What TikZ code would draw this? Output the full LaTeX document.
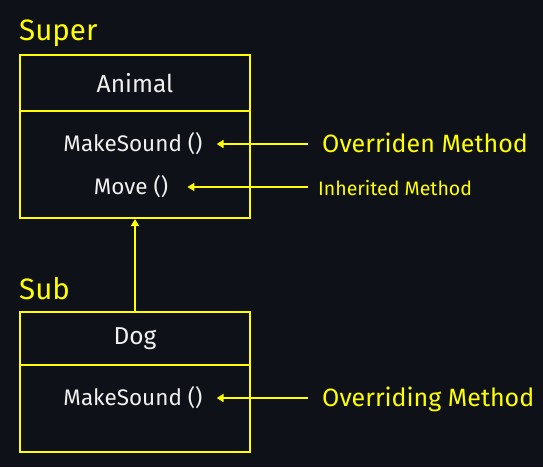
\documentclass[tikz,border=0pt]{standalone}
\usepackage{fontspec}
\setmainfont{Fira Sans}
\usepackage{tikz}
\usetikzlibrary{arrows.meta}
\definecolor{bgdark}{HTML}{0E1118}
\definecolor{hl}{HTML}{FFFF00}
\definecolor{txt}{HTML}{F0F0F0}

\begin{document}
\begin{tikzpicture}[x=1pt,y=-1pt]
		\fill[bgdark] (0,0) rectangle (543,467);
		\useasboundingbox (0,0) rectangle (543,467);

		\begin{scope}[every node/.style={rectangle,draw=hl,line width=2pt,minimum width=230pt,inner sep=0pt,text=txt,font=\fontsize{24.5}{28}\selectfont}]
			\node[minimum height=56pt] (animal) at (135,83) {Animal};
			\node[minimum height=107pt] (animalbody) at (135,164.5) {};
			\node[minimum height=53pt] (dog) at (135,338.5) {Dog};
			\node[minimum height=87pt] (dogbody) at (135,408.5) {};
		\end{scope}

		\begin{scope}[every node/.style={inner sep=0pt,text=txt,font=\fontsize{22.5}{26}\selectfont}]
			\node (makesound) at (133,144) {MakeSound ()};
			\node (move) at (131,187) {Move ()};
			\node (dogsound) at (133,398) {MakeSound ()};
		\end{scope}

		\begin{scope}[every node/.style={inner sep=0pt,text=hl,anchor=base west}]
			\node[font=\fontsize{29.5}{32}\selectfont] (super) at (19,40) {Super};
			\node[font=\fontsize{29.5}{32}\selectfont] (sub) at (19,299) {Sub};
			\node[font=\fontsize{25}{28}\selectfont] (overriden) at (322,152) {Overriden Method};
			\node[font=\fontsize{19.5}{22}\selectfont] (inherited) at (318,195) {Inherited Method};
			\node[font=\fontsize{25}{28}\selectfont] (overriding) at (322,406) {Overriding Method};
		\end{scope}

		\begin{scope}[>={Triangle[length=7pt,width=8pt]},
					  every edge/.style={draw=hl,line width=2pt}]
			\path [->] (dog.north) edge (animalbody.south);
			\path [<-] (makesound.east) edge[shorten <=14pt,shorten >=14pt] (makesound.east -| overriden.west);
			\path [<-] (move.east) edge[line width=1.5pt,shorten <=19pt,shorten >=10pt] (move.east -| inherited.west);
			\path [<-] (dogsound.east) edge[shorten <=14pt,shorten >=14pt] (dogsound.east -| overriding.west);
		\end{scope}
\end{tikzpicture}
\end{document}
